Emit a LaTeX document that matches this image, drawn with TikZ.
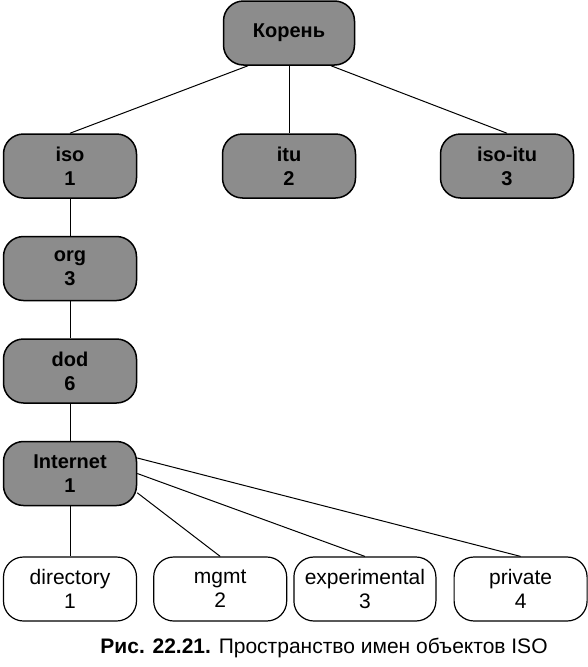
\documentclass[tikz,border=0pt]{standalone}
\usepackage{fontspec}
\setmainfont{Liberation Sans}
\usetikzlibrary{positioning}

\begin{document}
\begin{tikzpicture}[
    x=1pt, y=-1pt,
    node distance=37pt and 16pt, % Расстояние между узлами
    objnode/.style={draw, line width=1.5pt, fill=black!45, rounded corners=20pt,
        minimum width=133pt, minimum height=64pt, inner sep=0pt, align=center,
        font=\fontsize{20}{24}\selectfont\bfseries}, % Серые узлы
    leafnode/.style={objnode, fill=white, line width=1.2pt,
        font=\fontsize{21}{24}\selectfont}, % Белые узлы
    link/.style={line width=1pt} % Стиль связей
    ]

    \useasboundingbox (0,0) rectangle (587,667);

    % Корень дерева
    \node[objnode, minimum width=131pt] (root) at (289,33) {Корень};

    % Первый уровень
    \node[objnode] (iso) at (70,166) {iso\\1};
    \node[objnode] (itu) at (289,166) {itu\\2};
    \node[objnode] (isoitu) at (507,166) {iso-itu\\3};

    % Ветка iso
    \node[objnode, below=of iso] (org) {org\\3};
    \node[objnode, below=of org] (dod) {dod\\6};
    \node[objnode, below=of dod] (inet) {Internet\\1};

    % Поддерево Internet
    \node[leafnode] (dir) at (70,589) {directory\\1};
    \node[leafnode, right=of dir] (mgmt) {mgmt\\2};
    \node[leafnode, right=6pt of mgmt, minimum width=142pt] (exper) {experimental\\3};
    \node[leafnode, right=17pt of exper] (priv) {private\\4};

    % Связи от корня
    \draw[link] ([xshift=-41pt]root.south) -- (iso.north);
    \draw[link] (root.south) -- (itu.north);
    \draw[link] ([xshift=42pt]root.south) -- (isoitu.north);

    % Связи по ветке iso
    \foreach \a/\b in {iso/org, org/dod, dod/inet, inet/dir}
        \draw[link] (\a) -- (\b);

    % Связи от Internet
    \draw[link] (inet.-16) -- (mgmt.north);
    \draw[link] (inet.east) -- (exper.north);
    \draw[link] (inet.13) -- (priv.north);

    % Подпись рисунка
    \node[font=\fontsize{21}{24}\selectfont, anchor=base] (caption) at (324,653)
        {\textbf{Рис. 22.21.} Пространство имен объектов ISO};

\end{tikzpicture}
\end{document}
